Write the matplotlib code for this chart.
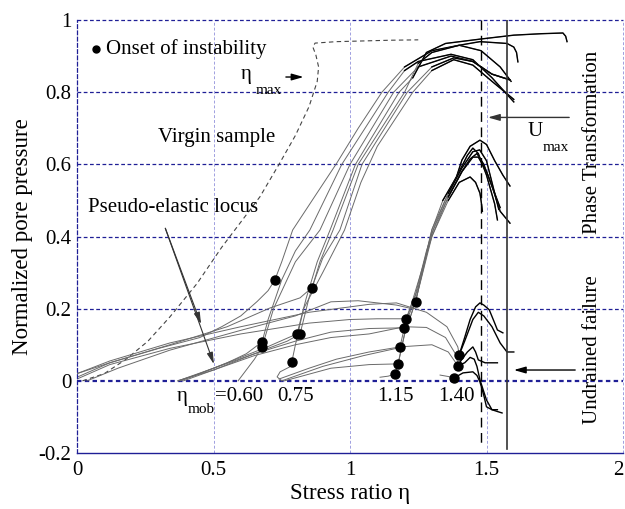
import matplotlib.pyplot as plt
import numpy as np

plt.rcParams['font.family'] = ['Liberation Serif', 'DejaVu Serif']
plt.rcParams['mathtext.fontset'] = 'stix'

# virgin (first loading) sample
virgin_eta = [0.02, 0.10, 0.18, 0.26, 0.34, 0.44, 0.53, 0.60, 0.67, 0.74, 0.80, 0.85, 0.88,
              0.885, 0.875, 0.864, 0.872, 0.95, 1.05, 1.15, 1.25]
virgin_u = [0.0, 0.02, 0.06, 0.11, 0.177, 0.27, 0.37, 0.44, 0.51, 0.60, 0.68, 0.76, 0.83,
            0.87, 0.903, 0.925, 0.936, 0.94, 0.942, 0.944, 0.945]

# reloading paths (pseudo-elastic), each ends at an onset of instability
reload_eta = [
    [0.0, 0.12, 0.30, 0.45, 0.53, 0.60, 0.66, 0.70, 0.725],
    [0.37, 0.45, 0.55, 0.62, 0.678],
    [0.59, 0.62, 0.65, 0.678],
    [0.0, 0.12, 0.34, 0.55, 0.707, 0.817, 0.86],
    [0.37, 0.50, 0.60, 0.70, 0.76, 0.806],
    [0.39, 0.50, 0.60, 0.70, 0.77, 0.817],
    [0.75, 0.733, 0.744, 0.78, 0.787],
    [0.037, 0.15, 0.34, 0.60, 0.80, 0.93, 1.03, 1.17, 1.227, 1.24],
    [0.0, 0.12, 0.34, 0.60, 0.85, 1.00, 1.10, 1.205],
    [0.38, 0.50, 0.65, 0.80, 0.93, 1.07, 1.198],
    [0.74, 0.85, 0.95, 1.07, 1.183],
    [0.76, 0.93, 1.07, 1.176],
    [1.11, 1.14, 1.165],
    [0.0, 0.12, 0.34, 0.60, 0.85, 1.07, 1.17, 1.28, 1.355, 1.395, 1.40],
    [0.37, 0.50, 0.65, 0.80, 0.93, 1.07, 1.20, 1.28, 1.35, 1.39, 1.395],
    [0.75, 0.90, 1.05, 1.20, 1.30, 1.36, 1.395],
    [1.33, 1.36, 1.381],
]
reload_u = [
    [0.02, 0.05, 0.09, 0.12, 0.15, 0.18, 0.22, 0.25, 0.28],
    [0.0, 0.02, 0.05, 0.075, 0.108],
    [0.0, 0.03, 0.06, 0.094],
    [0.01, 0.05, 0.10, 0.15, 0.202, 0.23, 0.258],
    [0.0, 0.035, 0.065, 0.095, 0.115, 0.13],
    [0.0, 0.03, 0.06, 0.09, 0.11, 0.13],
    [0.0, 0.011, 0.025, 0.039, 0.053],
    [0.0, 0.035, 0.085, 0.14, 0.18, 0.219, 0.222, 0.21, 0.20, 0.219],
    [0.005, 0.045, 0.09, 0.13, 0.16, 0.17, 0.172, 0.172],
    [0.0, 0.035, 0.075, 0.11, 0.135, 0.145, 0.147],
    [0.005, 0.035, 0.06, 0.08, 0.094],
    [0.0, 0.035, 0.045, 0.047],
    [0.01, 0.013, 0.019],
    [0.02, 0.055, 0.105, 0.15, 0.19, 0.212, 0.216, 0.19, 0.15, 0.094, 0.072],
    [0.0, 0.03, 0.07, 0.10, 0.12, 0.13, 0.15, 0.148, 0.12, 0.07, 0.042],
    [0.0, 0.04, 0.07, 0.095, 0.10, 0.08, 0.042],
    [0.016, 0.012, 0.008],
]

# unstable response after onset, preloaded to eta_mob = 0.60 / 0.75
upper_eta = [
    [0.725, 0.75, 0.79, 0.87, 0.952, 1.03, 1.117, 1.20, 1.30, 1.40, 1.48, 1.55, 1.59],
    [0.678, 0.70, 0.75, 0.80, 0.853, 0.97, 1.14, 1.20, 1.25, 1.37, 1.45, 1.52, 1.60],
    [0.678, 0.72, 0.80, 0.89, 1.00, 1.16, 1.25, 1.37, 1.45, 1.52, 1.586],
    [0.806, 0.84, 0.88, 0.927, 1.02, 1.18, 1.23, 1.28, 1.35, 1.476, 1.60, 1.70, 1.78, 1.79, 1.795],
    [0.817, 0.85, 0.89, 0.938, 1.03, 1.20, 1.25, 1.30, 1.40, 1.476, 1.575, 1.60, 1.61, 1.615],
    [0.86, 0.90, 0.963, 1.044, 1.21, 1.30, 1.38, 1.45, 1.52, 1.586],
    [0.787, 0.80, 0.83, 0.90, 0.98, 1.04, 1.10, 1.23, 1.30, 1.38, 1.45, 1.52, 1.60],
]
upper_u = [
    [0.28, 0.33, 0.418, 0.51, 0.604, 0.70, 0.80, 0.87, 0.915, 0.93, 0.915, 0.87, 0.83],
    [0.108, 0.17, 0.28, 0.36, 0.418, 0.60, 0.80, 0.86, 0.885, 0.905, 0.89, 0.84, 0.773],
    [0.094, 0.20, 0.33, 0.418, 0.60, 0.80, 0.87, 0.90, 0.885, 0.85, 0.834],
    [0.13, 0.23, 0.33, 0.418, 0.60, 0.80, 0.84, 0.91, 0.935, 0.947, 0.958, 0.962, 0.964, 0.955, 0.94],
    [0.13, 0.23, 0.33, 0.418, 0.60, 0.80, 0.88, 0.91, 0.93, 0.94, 0.935, 0.925, 0.91, 0.884],
    [0.258, 0.34, 0.418, 0.60, 0.80, 0.87, 0.895, 0.885, 0.85, 0.834],
    [0.053, 0.10, 0.20, 0.30, 0.418, 0.55, 0.65, 0.80, 0.86, 0.89, 0.875, 0.83, 0.78],
]

# preloaded to eta_mob = 1.15
middle_eta = [
    [1.24, 1.27, 1.30, 1.34, 1.39, 1.41, 1.44, 1.476, 1.50, 1.53, 1.56, 1.586],
    [1.205, 1.24, 1.28, 1.31, 1.36, 1.40, 1.43, 1.45, 1.47, 1.50, 1.53, 1.54],
    [1.183, 1.20, 1.24, 1.30, 1.36, 1.41, 1.44, 1.465, 1.49, 1.52, 1.55, 1.586],
    [1.165, 1.18, 1.20, 1.24, 1.30, 1.36, 1.40, 1.44, 1.46, 1.476, 1.48, 1.485],
    [1.176, 1.20, 1.24, 1.30, 1.36, 1.41, 1.45, 1.47, 1.50, 1.55],
    [1.198, 1.22, 1.25, 1.30, 1.36, 1.41, 1.45, 1.475, 1.50, 1.52, 1.545],
]
middle_u = [
    [0.219, 0.32, 0.418, 0.50, 0.565, 0.612, 0.65, 0.667, 0.655, 0.61, 0.57, 0.54],
    [0.172, 0.24, 0.36, 0.43, 0.52, 0.58, 0.625, 0.645, 0.63, 0.57, 0.49, 0.446],
    [0.094, 0.15, 0.25, 0.40, 0.51, 0.58, 0.615, 0.63, 0.60, 0.54, 0.47, 0.437],
    [0.019, 0.06, 0.13, 0.22, 0.40, 0.50, 0.55, 0.565, 0.55, 0.52, 0.50, 0.47],
    [0.047, 0.13, 0.22, 0.41, 0.51, 0.58, 0.62, 0.62, 0.58, 0.48],
    [0.147, 0.19, 0.26, 0.42, 0.52, 0.59, 0.635, 0.64, 0.61, 0.55, 0.475],
]

# preloaded to eta_mob = 1.40
lower_eta = [
    [1.40, 1.42, 1.44, 1.46, 1.476, 1.49, 1.51, 1.53, 1.54, 1.56],
    [1.40, 1.42, 1.45, 1.47, 1.49, 1.52, 1.55, 1.575, 1.60],
    [1.395, 1.41, 1.43, 1.45, 1.46, 1.47, 1.495, 1.52, 1.54],
    [1.395, 1.42, 1.44, 1.455, 1.465, 1.476, 1.49, 1.50, 1.52, 1.54, 1.557],
    [1.381, 1.414, 1.45, 1.465, 1.476, 1.49, 1.50, 1.52, 1.54],
]
lower_u = [
    [0.072, 0.12, 0.17, 0.205, 0.216, 0.21, 0.197, 0.16, 0.141, 0.133],
    [0.072, 0.11, 0.17, 0.19, 0.18, 0.15, 0.105, 0.08, 0.08],
    [0.042, 0.06, 0.08, 0.094, 0.08, 0.058, 0.05, 0.05, 0.05],
    [0.042, 0.05, 0.065, 0.06, 0.04, 0.003, -0.03, -0.053, -0.08, -0.085, -0.089],
    [0.008, 0.022, 0.025, 0.015, -0.003, -0.04, -0.072, -0.08, -0.08],
]

onset_eta = [0.725, 0.678, 0.678, 0.860, 0.806, 0.817, 0.787,
             1.240, 1.205, 1.198, 1.183, 1.176, 1.165, 1.400, 1.395, 1.381]
onset_u = [0.280, 0.108, 0.094, 0.258, 0.130, 0.130, 0.053,
           0.219, 0.172, 0.147, 0.094, 0.047, 0.019, 0.072, 0.042, 0.008]

eta_mob_labels = ['0.75', '1.15', '1.40']
eta_mob_pos = [0.80, 1.168, 1.388]
eta_pt = 1.48      # phase transformation / U_max
eta_uf = 1.575     # undrained failure

GRAY = '#6a6a6a'
NAVY = '#1f1f96'

fig = plt.figure(figsize=(6.25, 5.09), dpi=100)
ax = fig.add_axes([0.1232, 0.110, 0.8736, 0.8507])
ax.set_xlim(0, 2)
ax.set_ylim(-0.2, 1)

# grid
for yv in [0.2, 0.4, 0.6, 0.8, 1.0]:
    ax.axhline(yv, color=NAVY, lw=0.9, dashes=(3, 2), clip_on=False, zorder=0)
ax.axhline(0, color=NAVY, lw=1.6, dashes=(2, 1.5), zorder=0)
for xv in [0.5, 1.0, 1.5, 2.0]:
    ax.axvline(xv, color='#a0a0e0', lw=0.7, dashes=(3, 2), clip_on=False, zorder=0)
for s in ['top', 'right']:
    ax.spines[s].set_visible(False)
ax.spines['bottom'].set_color(NAVY)
ax.spines['bottom'].set_linewidth(1.0)
ax.spines['left'].set_color(NAVY)
ax.spines['left'].set_linestyle((0, (3, 2)))
ax.spines['left'].set_linewidth(0.9)

ax.plot(virgin_eta, virgin_u, color='#444444', lw=0.8, dashes=(4, 3))

for xs, ys in zip(reload_eta, reload_u):
    ax.plot(xs, ys, color=GRAY, lw=0.7)


def draw_response(xs, ys, thr, lw_black):
    xs, ys = np.asarray(xs), np.asarray(ys)
    ax.plot(xs, ys, color=GRAY, lw=0.7)
    i = int(np.argmax(ys >= thr))
    ax.plot(xs[i:], ys[i:], color='black', lw=lw_black)


for xs, ys in zip(upper_eta, upper_u):
    draw_response(xs, ys, 0.84, 1.0)
for xs, ys in zip(middle_eta, middle_u):
    draw_response(xs, ys, 0.45, 1.0)
for xs, ys in zip(lower_eta, lower_u):
    ax.plot(xs, ys, color='black', lw=1.0)

ax.plot(onset_eta, onset_u, 'o', color='black', ms=6.5, zorder=5)

# reference lines
ax.plot([eta_pt, eta_pt], [1.0, -0.18], color='black', lw=1.0, dashes=(7, 4))
ax.plot([eta_uf, eta_uf], [1.0, -0.19], color='#333333', lw=1.2)

# annotations
fs = 15
ax.plot([0.07], [0.92], 'o', color='black', ms=5)
ax.text(0.105, 0.92, 'Onset of instability', fontsize=fs, va='center')
ax.text(0.60, 0.848, 'η', fontsize=fs, va='center')
ax.text(0.655, 0.805, 'max', fontsize=11, va='center')
ax.annotate('', xy=(0.84, 0.842), xytext=(0.755, 0.842),
            arrowprops=dict(arrowstyle='-|>,head_length=0.7,head_width=0.2', color='black', lw=1.0))
ax.text(0.51, 0.673, 'Virgin sample', fontsize=fs, ha='center', va='center')
ax.text(0.352, 0.48, 'Pseudo-elastic locus', fontsize=fs, ha='center', va='center')
for tip in [(0.458, 0.15), (0.505, 0.039)]:
    ax.annotate('', xy=tip, xytext=(0.32, 0.43),
                arrowprops=dict(arrowstyle='-|>,head_length=0.7,head_width=0.18', color='#333333', lw=0.8))

ax.text(1.678, 0.69, 'U', fontsize=fs, ha='center', va='center')
ax.text(1.707, 0.648, 'max', fontsize=11, va='center')
ax.annotate('', xy=(1.495, 0.73), xytext=(1.813, 0.73),
            arrowprops=dict(arrowstyle='-|>,head_length=0.7,head_width=0.2', color='#333333', lw=1.0))
ax.annotate('', xy=(1.59, 0.03), xytext=(1.835, 0.03),
            arrowprops=dict(arrowstyle='-|>,head_length=0.7,head_width=0.2', color='black', lw=1.0))
ax.text(1.89, 0.66, 'Phase Transformation', fontsize=fs, rotation=90, ha='center', va='center')
ax.text(1.89, 0.086, 'Undrained failure', fontsize=fs, rotation=90, ha='center', va='center')

ax.text(0.366, -0.044, 'η', fontsize=fs, va='center')
ax.text(0.407, -0.08, 'mob', fontsize=11, va='center')
ax.text(0.505, -0.044, '=0.60', fontsize=fs, va='center')
for lab, xp in zip(eta_mob_labels, eta_mob_pos):
    ax.text(xp, -0.044, lab, fontsize=fs, ha='center', va='center')

ax.set_xticks([0, 0.5, 1, 1.5, 2])
ax.set_xticklabels(['0', '0.5', '1', '1.5', '2'])
ax.set_yticks([-0.2, 0, 0.2, 0.4, 0.6, 0.8, 1])
ax.set_yticklabels(['-0.2', '0', '0.2', '0.4', '0.6', '0.8', '1'])
ax.tick_params(axis='both', length=0, labelsize=fs)
ax.tick_params(axis='x', pad=6)
ax.tick_params(axis='y', pad=4)
ax.get_xticklabels()[-1].set_horizontalalignment('right')
ax.set_xlabel('Stress ratio η', fontsize=16.5, labelpad=2)
ax.set_ylabel('Normalized pore pressure', fontsize=16.5, labelpad=4)

fig.savefig('out.png', dpi=100)
